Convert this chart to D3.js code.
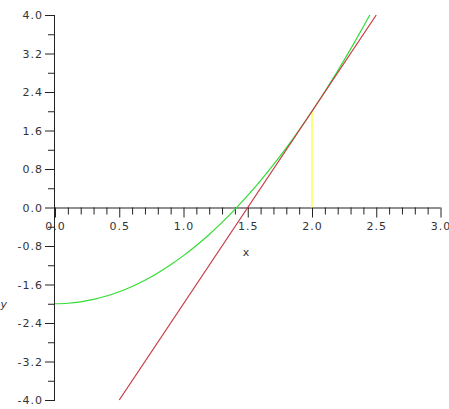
<!DOCTYPE html>
<html><head><meta charset="utf-8">
<script src="https://cdn.jsdelivr.net/npm/d3@7"></script>
<style>
html,body{margin:0;padding:0;background:#fff;}
svg{display:block;}
text{font-family:"DejaVu Sans",sans-serif;font-size:11px;fill:#333;}
</style></head><body>
<svg id="c" width="449" height="409"></svg>
<script>
// Data
const curveX = [0,0.1,0.2,0.3,0.4,0.5,0.6,0.7,0.8,0.9,1.0,1.1,1.2,1.3,1.4,1.5,1.6,1.7,1.8,1.9,2.0,2.1,2.2,2.3,2.4,2.45];
const curveY = [-2,-1.99,-1.96,-1.91,-1.84,-1.75,-1.64,-1.51,-1.36,-1.19,-1.0,-0.79,-0.56,-0.31,-0.04,0.25,0.56,0.89,1.24,1.61,2.0,2.41,2.84,3.29,3.76,4.0];
const tangentX = [0.5, 2.5];
const tangentY = [-4, 4];
const markerX = [2, 2];
const markerY = [0, 2];
const xMajorTicks = [0,0.5,1.0,1.5,2.0,2.5,3.0];
const xMinorTicks = [0.1,0.2,0.3,0.4,0.6,0.7,0.8,0.9,1.1,1.2,1.3,1.4,1.6,1.7,1.8,1.9,2.1,2.2,2.3,2.4,2.6,2.7,2.8,2.9];
const yMajorTicks = [4.0,3.2,2.4,1.6,0.8,0.0,-0.8,-1.6,-2.4,-3.2,-4.0];
const yMinorTicks = [3.6,2.8,2.0,1.2,0.4,-0.4,-1.2,-2.0,-2.8,-3.6];
const xLabel = "x", yLabel = "y";

const svg = d3.select("#c");
const x = d3.scaleLinear().domain([0,3]).range([55,440.5]);
const y = d3.scaleLinear().domain([-4,4]).range([400,15]);
const fmt = d => d.toFixed(1);

const line = d3.line().x(d=>x(d[0])).y(d=>y(d[1]));

// axes
const xAxis = svg.append("g").attr("transform",`translate(0,${y(0)})`)
  .call(d3.axisBottom(x).tickValues(xMajorTicks).tickSize(10).tickPadding(5).tickFormat(fmt));
const xMinor = svg.append("g").attr("transform",`translate(0,${y(0)})`)
  .call(d3.axisBottom(x).tickValues(xMinorTicks).tickSize(7).tickFormat(""));
const yAxis = svg.append("g").attr("transform",`translate(${x(0)},0)`)
  .call(d3.axisLeft(y).tickValues(yMajorTicks).tickSize(10).tickPadding(2).tickFormat(fmt));
const yMinor = svg.append("g").attr("transform",`translate(${x(0)},0)`)
  .call(d3.axisLeft(y).tickValues(yMinorTicks).tickSize(7).tickFormat(""));
svg.selectAll(".domain").attr("stroke","#222");
svg.selectAll(".tick line").attr("stroke","#222");
svg.selectAll(".tick text").attr("fill","#333")
  .style("font-family","DejaVu Sans, sans-serif").style("font-size","11px").style("letter-spacing","1px");
[xMinor,yMinor].forEach(g=>g.select(".domain").remove());
xAxis.select(".domain").attr("d",`M${x(0)},0.5H${x(3)}`);
yAxis.select(".domain").attr("d",`M-0.5,${y(4)}V${y(-4)}`);

// curves
svg.append("path").datum(markerX.map((v,i)=>[v,markerY[i]])).attr("d",line)
  .attr("fill","none").attr("stroke","#ffff55").attr("stroke-width",1.5);
svg.append("path").datum(curveX.map((v,i)=>[v,curveY[i]])).attr("d",line.curve(d3.curveNatural))
  .attr("fill","none").attr("stroke","#33dd33").attr("stroke-width",1.2);
svg.append("path").datum(tangentX.map((v,i)=>[v,tangentY[i]])).attr("d",d3.line().x(d=>x(d[0])).y(d=>y(d[1])))
  .attr("fill","none").attr("stroke","#cc3344").attr("stroke-width",1.2);

// labels
svg.append("text").attr("x",246).attr("y",256).attr("text-anchor","middle").text(xLabel);
svg.append("text").attr("x",7).attr("y",308).attr("text-anchor","end").style("font-style","italic").text(yLabel);
</script></body></html>
